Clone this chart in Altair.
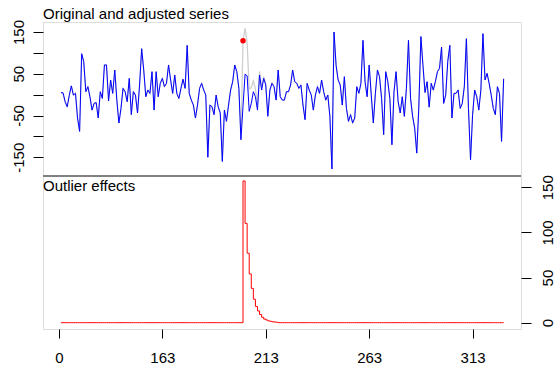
import altair as alt
import pandas as pd

# ---------------- data ----------------
start_time = 114
adjusted = [
    # 114-148
    5, 4, -17, -29, -2, 21, -1, 3, -56, -88, 98, 79, 7, 19, -5, -37, -21, -19, -56, 7,
    -9, 71, 71, -15, 35, 3, 59, -13, -68, -33, 15, 7, -17, 39, -48,
    # 149-184
    7, -1, -44, 23, 110, 59, -5, 11, 3, 55, -37, 55, -5, 27, 39, 19, 27, 71, 35, 3,
    47, 3, -9, 15, 37, 15, 118, 3, -13, -25, -56, -25, 15, 27, 11, -1,
    # 185-219
    -150, -25, -29, -48, -1, -29, -44, -160, -37, -64, -25, 11, 31, 71, 55, 15, -108, -28,
    49, 45, -40, -21, 7, -5, -37, 47, 11, 39, 23, -52, 11, 27, 19, -13, 59,
    # 220-255
    -5, -13, -13, 7, 7, 23, 59, 31, 27, 15, 23, -25, -60, 27, 11, -1, -37, -1, 19, 3,
    35, 7, -13, -1, -52, -178, 150, 70, 35, 23, -25, 43, -33, -64, -48, -68,
    # 256-291
    -56, 19, 3, 27, 130, 31, -5, 71, -1, -68, 3, 59, 43, -9, -96, 55, 31, -9, -120, 7,
    55, -17, -44, -5, -52, 15, 130, -9, -52, -80, -140, -30, 139, 70, 5, 31,
    # 292-328
    -30, 27, 11, 31, 55, 63, 114, -21, -1, 80, 118, -56, 3, 3, 11, -33, -21, 19, 134, -33,
    -156, -48, 11, -5, -37, 11, 146, 35, 51, 27, -1, -33, -48, 19, 3, -112, 38,
]
outlier_time = 202
effect_values = [157, 110, 77, 54, 38, 26, 18, 13, 9, 6, 4, 3, 2, 1.5, 1, 0.7, 0.5]

panel_titles = ["Original and adjusted series", "Outlier effects"]
x_tick_values = [113, 163, 213, 263, 313]
x_tick_labels = ["0", "163", "213", "263", "313"]
top_tick_values = [-150, -100, -50, 0, 50, 100, 150]
top_tick_labels = ["-150", "", "-50", "", "50", "", "150"]
bottom_tick_values = [0, 50, 100, 150]

# ---------------- build table ----------------
n = len(adjusted)
times = list(range(start_time, start_time + n))
effect = [0.0] * n
for i, v in enumerate(effect_values):
    effect[outlier_time - start_time + i] = v
original = [a + e for a, e in zip(adjusted, effect)]
df = pd.DataFrame({"t": times, "adjusted": adjusted, "effect": effect, "original": original})
pt_df = df[df["t"] == outlier_time]

FONT = "Liberation Sans"
W, H = 478, 307
TOP_H = 154


def label_expr(values, labels):
    expr = "datum.label"
    for v, l in reversed(list(zip(values, labels))):
        expr = f"datum.value == {v} ? '{l}' : ({expr})"
    return expr


x_scale = alt.Scale(domain=[105.3, 336.4], nice=False, zero=False)
x_axis = alt.Axis(values=x_tick_values, labelExpr=label_expr(x_tick_values, x_tick_labels),
                  title=None, grid=False, domain=False, tickSize=9, tickColor="black",
                  labelPadding=12.5, labelFontSize=15, labelFont=FONT, labelColor="black",
                  labelAngle=0, labelOverlap=False, labelFlush=False)
X = alt.X("t:Q", scale=x_scale, axis=x_axis)

top_scale = alt.Scale(domain=[-561.1, 173.9], nice=False, zero=False)
bottom_scale = alt.Scale(domain=[-7.0, 333.1], nice=False, zero=False)

left_axis = alt.Axis(orient="left", values=top_tick_values,
                     labelExpr=label_expr(top_tick_values, top_tick_labels),
                     title=None, grid=False, domain=False, tickSize=10, tickColor="black",
                     labelPadding=9.7, labelFontSize=15, labelFont=FONT, labelColor="black",
                     labelAngle=270, labelAlign="center", labelBaseline="alphabetic",
                     labelOverlap=False, labelFlush=False)
right_axis = alt.Axis(orient="right", values=bottom_tick_values,
                      title=None, grid=False, domain=False, tickSize=10, tickColor="black",
                      labelPadding=21.5, labelFontSize=15, labelFont=FONT, labelColor="black",
                      labelAngle=270, labelAlign="center", labelBaseline="alphabetic",
                      labelOverlap=False, labelFlush=False)

base = alt.Chart(df)

gray = base.mark_line(color="#CFCFCF", strokeWidth=1.3).encode(
    x=X, y=alt.Y("original:Q", scale=top_scale, axis=None))
blue = base.mark_line(color="#0000FF", strokeWidth=1).encode(
    x=X, y=alt.Y("adjusted:Q", scale=top_scale, axis=left_axis))
point = alt.Chart(pt_df).mark_circle(color="#FF0000", size=30, opacity=1).encode(
    x=X, y=alt.Y("original:Q", scale=top_scale, axis=None))
red = base.mark_line(color="#FF0000", strokeWidth=1, interpolate="step-after").encode(
    x=X, y=alt.Y("effect:Q", scale=bottom_scale, axis=right_axis))

divider = alt.Chart(pd.DataFrame({"k": [0]})).mark_rule(color="#808080", strokeWidth=2).encode(
    x=alt.value(0), x2=alt.value(W), y=alt.value(TOP_H))

title_top = alt.Chart(pd.DataFrame({"label": [panel_titles[0]]})).mark_text(
    align="left", baseline="alphabetic", fontSize=15, font=FONT, color="black").encode(
    x=alt.value(0), y=alt.value(-3), text="label:N")
title_bottom = alt.Chart(pd.DataFrame({"label": [panel_titles[1]]})).mark_text(
    align="left", baseline="alphabetic", fontSize=15, font=FONT, color="black").encode(
    x=alt.value(0), y=alt.value(TOP_H + 14.7), text="label:N")

chart = alt.layer(gray, blue, point, red, divider, title_top, title_bottom).resolve_scale(
    y="independent"
).properties(
    width=W, height=H,
    autosize=alt.AutoSizeParams(type="none"),
    padding={"left": 43, "top": 22, "right": 34, "bottom": 38},
).configure_view(stroke="#555555", strokeWidth=1).configure(background="white")

chart.save("out.html", embed_options={"renderer": "svg", "actions": False})
